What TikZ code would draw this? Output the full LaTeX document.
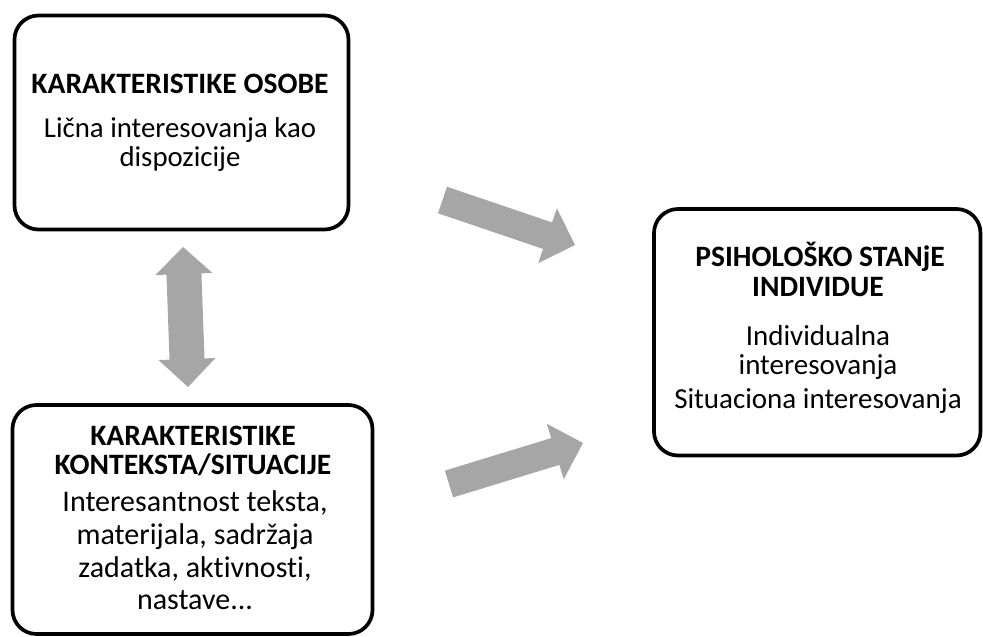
\documentclass[tikz,border=0pt]{standalone}
\usepackage{fontspec}
\setmainfont{Carlito}[Ligatures=NoCommon]
\usetikzlibrary{calc}
\definecolor{arrowgray}{HTML}{A6A6A6}
\newcommand\singlearrow[3]{%
  \coordinate (#3b) at ($(#2)!29pt!(#1)$);
  \fill[blockarrow] ($(#1)!14pt!90:(#2)$) -- ($(#3b)!14pt!90:(#2)$) -- ($(#3b)!29pt!90:(#2)$) -- (#2)
    -- ($(#3b)!29pt!-90:(#2)$) -- ($(#3b)!14pt!-90:(#2)$) -- ($(#1)!14pt!-90:(#2)$) -- cycle;}
\begin{document}
\begin{tikzpicture}[x=1pt,y=-1pt,
  box/.style={draw=black, line width=3.7pt, rounded corners=24pt, inner sep=0pt},
  txt/.style={anchor=base, inner sep=0pt, font=\fontsize{#1}{30}\selectfont},
  btxt/.style={anchor=base, inner sep=0pt, font=\fontsize{29.6}{30}\selectfont\bfseries},
  blockarrow/.style={fill=arrowgray, draw=none}]
\useasboundingbox (0,0) rectangle (983,637);
% boxes
\node[box, minimum width=334pt, minimum height=214pt] (osoba) at (181.5,122.5) {};
\node[box, minimum width=360pt, minimum height=229pt] (kontekst) at (192.5,519.5) {};
\node[box, minimum width=326.5pt, minimum height=246.5pt] (stanje) at (817.25,332.25) {};
% texts box 1
\node[btxt] (o1) at (180,93) {KARAKTERISTIKE OSOBE};
\node[txt=28.8] (o2) at (180,137) {Lična interesovanja kao};
\node[txt=28.8] (o3) at (180,166) {dispozicije};
% texts box 2
\node[btxt] (k1) at (193,445) {KARAKTERISTIKE};
\node[btxt] (k2) at (193,474) {KONTEKSTA/SITUACIJE};
\node[txt=30] (k3) at (195,511) {Interesantnost teksta,};
\node[txt=30] (k4) at (195,544) {materijala, sadržaja};
\node[txt=30] (k5) at (195,577) {zadatka, aktivnosti,};
\node[txt=30] (k6) at (195,609) {nastave...};
% texts box 3
\node[btxt] (s1) at (820,266) {PSIHOLOŠKO STANjE};
\node[btxt] (s2) at (818,296) {INDIVIDUE};
\node[txt=29] (s3) at (818,345.5) {Individualna};
\node[txt=29] (s4) at (818,374.5) {interesovanja};
\node[txt=29] (s5) at (818,408) {Situaciona interesovanja};
% arrows
\coordinate (a1t) at (442.5,200); \coordinate (a1h) at (575,245);
\singlearrow{a1t}{a1h}{a1}
\coordinate (a2t) at (449,484); \coordinate (a2h) at (583,443);
\singlearrow{a2t}{a2h}{a2}
\coordinate (v1) at (183,247); \coordinate (v2) at (188,387);
\coordinate (v1b) at ($(v1)!27pt!(v2)$); \coordinate (v2b) at ($(v2)!28pt!(v1)$);
\fill[blockarrow] (v1) -- ($(v1b)!28.5pt!90:(v2)$) -- ($(v1b)!17.5pt!90:(v2)$) -- ($(v2b)!17.5pt!-90:(v1)$)
  -- ($(v2b)!28.5pt!-90:(v1)$) -- (v2) -- ($(v2b)!28.5pt!90:(v1)$) -- ($(v2b)!17.5pt!90:(v1)$)
  -- ($(v1b)!17.5pt!-90:(v2)$) -- ($(v1b)!28.5pt!-90:(v2)$) -- cycle;
\end{tikzpicture}
\end{document}
